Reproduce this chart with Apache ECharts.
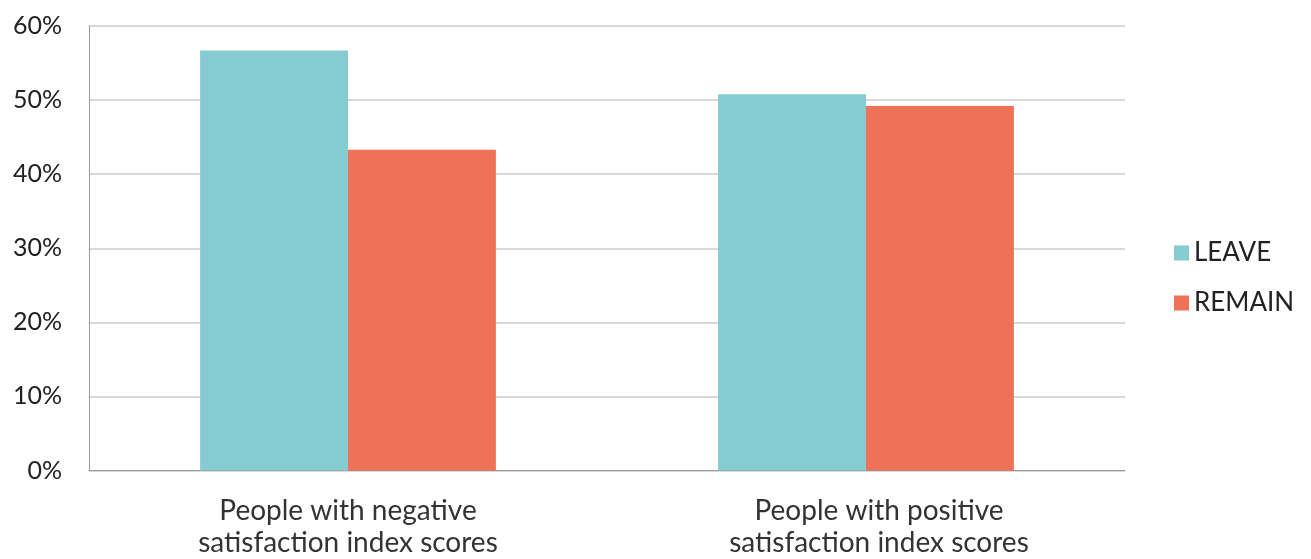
<!DOCTYPE html>
<html>
<head>
<meta charset="utf-8">
<script src="https://cdn.jsdelivr.net/npm/echarts@6/dist/echarts.min.js"></script>
<style>html,body{margin:0;padding:0;background:#fff}#c{width:1311px;height:559px}</style>
</head>
<body>
<div id="c"></div>
<script>
const categories = ['People with negative\nsatisfaction index scores', 'People with positive\nsatisfaction index scores'];
const leave = [56.7, 50.8];
const remain = [43.3, 49.2];
const seriesNames = ['LEAVE', 'REMAIN'];

const chart = echarts.init(document.getElementById('c'), null, {renderer: 'canvas'});
chart.setOption({
  animation: false,
  textStyle: {fontFamily: 'Lato'},
  grid: {left: 89, right: 186, top: 26, bottom: 88.5},
  legend: {
    orient: 'vertical', left: 1169, top: 235, itemWidth: 15, itemHeight: 15, itemGap: 24,
    icon: 'rect',
    textStyle: {fontSize: 26, color: '#222', fontFamily: 'Lato', padding: [0, 0, 0, 0]},
    data: seriesNames
  },
  xAxis: {
    type: 'category',
    data: categories.map((c, i) => i === 1 ? {value: c, textStyle: {padding: [0, 0, 0, 26]}} : c),
    axisLine: {lineStyle: {color: '#999', width: 1}},
    axisTick: {show: false},
    axisLabel: {fontSize: 28, color: '#333', lineHeight: 32, margin: 24, fontFamily: 'Lato'}
  },
  yAxis: {
    type: 'value', min: 0, max: 60, interval: 10,
    axisLine: {show: true, lineStyle: {color: '#999', width: 1}},
    axisTick: {show: false},
    splitLine: {lineStyle: {color: '#cccccc', width: 1.5}},
    axisLabel: {formatter: '{value}%', fontSize: 25, color: '#222', margin: 27, fontFamily: 'Lato'}
  },
  series: [
    {name: seriesNames[0], type: 'bar', data: leave, barGap: '0%', barCategoryGap: '42.9%', itemStyle: {color: '#86CBD0'}},
    {name: seriesNames[1], type: 'bar', data: remain, itemStyle: {color: '#EE7158'}}
  ]
});
</script>
</body>
</html>
